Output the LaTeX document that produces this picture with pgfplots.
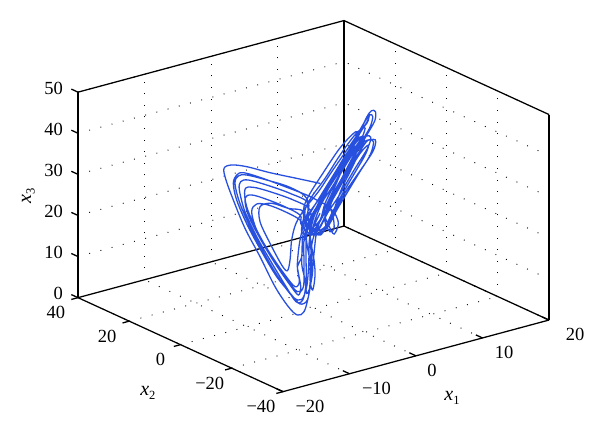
\documentclass[border=0pt]{standalone}
\usepackage{fontspec}
\setmainfont{Liberation Serif}
\usepackage{pgfplots}
\usepackage{pgfplotstable}
\pgfplotsset{compat=1.18}
\definecolor{traj}{RGB}{40,80,222}
\newcommand{\lab}[1]{\textit{x}\raisebox{-3.5pt}{\fontsize{12.5}{12.5}\selectfont #1}}
\pgfplotstableread{
x y z
1.35 .95 29.67
-3.46 -2.42 33.95
-8.95 -6.27 38.82
-13.76 -9.63 43.34
-16.85 -11.8 45.72
-18.43 -12.9 45.9
-18.02 -12.61 42.81
-16.51 -11.56 36.98
-14.11 -9.88 28.56
-11.01 -7.71 19.69
-7.92 -5.54 10.43
-5.18 -3.63 3.82
-3.32 -2.32 0.61
-1.95 -1.37 0.55
-1.05 -.74 3.63
-.37 -.26 8.06
.11 .08 13.43
.66 .46 18.36
2.04 1.43 22.34
4.10 2.87 26.30
6.50 4.55 31.26
8.91 6.24 35.41
10.83 7.58 39.46
11.93 8.35 40.62
12.76 8.93 39.85
12.62 8.83 37.75
10.97 7.68 35.31
8.22 5.75 31.39
5.82 4.07 27.24
3.41 2.39 23.09
1.69 1.18 19.72
.32 .22 18.57
-1.05 -.74 22.28
-1.40 -.98 27.78
-4.83 -3.38 32.63
-9.64 -6.75 37.48
-13.76 -9.63 41.31
-15.48 -10.84 42.17
-16.17 -11.32 40.81
-15.27 -10.69 35.78
-13.08 -9.16 28.31
-9.98 -6.99 19.45
-6.89 -4.82 11.40
-4.14 -2.90 5.43
-2.43 -1.70 3.85
-1.40 -.98 6.28
-.98 -.69 11.69
-.85 -.60 17.29
.11 .08 22.35
2.38 1.67 26.18
5.13 3.59 30.52
7.88 5.52 34.85
10.14 7.10 38.28
11.52 8.06 39.83
12.21 8.55 38.98
11.52 8.06 36.59
9.25 6.48 33.57
6.50 4.55 29.23
4.10 2.87 25.09
2.04 1.43 21.53
-.02 -.01 19.19
-1.74 -1.22 21.91
-1.05 -.74 26.34
-4.83 -3.38 31.17
-9.64 -6.75 36.26
-13.42 -9.39 39.88
-15.0 -10.5 40.48
-15.27 -10.69 38.62
-14.11 -9.88 32.61
-11.70 -8.19 25.0
-8.95 -6.27 17.57
-5.86 -4.10 9.53
-3.60 -2.52 4.03
-2.22 -1.55 3.56
-1.53 -1.07 7.17
-1.53 -1.07 13.66
-1.40 -.98 19.26
-.02 -.01 23.25
2.73 1.91 27.17
5.82 4.07 31.70
8.91 6.24 35.0
10.83 7.58 35.16
11.79 8.25 34.23
11.11 7.78 31.98
8.36 5.85 28.46
5.34 3.74 24.30
2.86 2.0 21.42
1.01 .71 18.54
-.71 -.50 18.82
-.71 -.50 24.50
-4.14 -2.90 29.11
-8.95 -6.27 34.20
-12.39 -8.67 37.44
-14.11 -9.88 38.05
-13.76 -9.63 33.61
-11.70 -8.19 26.62
-8.61 -6.03 18.17
-5.38 -3.77 10.44
-3.32 -2.32 6.29
-2.08 -1.46 6.71
-1.95 -1.37 12.31
-1.95 -1.37 17.99
-.71 -.50 22.47
2.04 1.43 25.99
5.13 3.59 29.71
8.22 5.75 32.60
10.42 7.29 34.04
12.34 8.64 33.39
12.82 8.97 32.51
12.21 8.55 30.47
9.94 6.96 27.86
6.85 4.80 24.55
4.44 3.11 21.22
2.38 1.67 18.47
.32 .22 17.75
-1.74 -1.22 20.29
-2.77 -1.94 23.37
-5.86 -4.10 27.37
-9.30 -6.51 31.17
-11.70 -8.19 32.95
-12.73 -8.91 31.74
-11.70 -8.19 26.62
-8.95 -6.27 19.19
-5.86 -4.10 11.96
-3.80 -2.66 7.81
-2.91 -2.04 8.46
-3.32 -2.32 12.37
-2.43 -1.70 14.23
-2.22 -1.55 18.97
-1.05 -.74 23.09
1.35 .95 26.43
4.10 2.87 29.95
6.85 4.80 33.47
9.25 6.48 35.59
10.42 7.29 35.10
9.94 6.96 32.73
7.53 5.27 29.39
5.13 3.59 26.06
3.41 2.39 22.69
4.24 2.97 20.94
5.13 3.59 17.54
4.24 2.97 15.51
3.27 2.29 17.91
2.38 1.67 21.31
3.41 2.39 24.31
5.82 4.07 28.05
8.56 5.99 31.17
11.11 7.78 33.85
12.34 8.64 32.82
11.66 8.16 30.01
9.25 6.48 26.92
6.85 4.80 23.74
4.79 3.35 21.0
2.73 1.91 17.85
.53 .37 17.62
-1.40 -.98 19.67
-2.63 -1.84 22.47
-2.77 -1.94 24.59
-6.21 -4.35 28.97
-9.64 -6.75 32.77
-12.73 -8.91 35.80
-14.11 -9.88 35.86
-13.42 -9.39 31.36
-11.01 -7.71 24.15
-7.92 -5.54 16.11
-4.83 -3.38 8.87
-3.11 -2.18 5.35
-2.63 -1.84 7.06
-3.11 -2.18 10.62
-3.32 -2.32 13.18
-2.77 -1.94 18.51
-1.53 -1.07 22.99
1.01 .71 25.84
3.76 2.63 28.96
6.50 4.55 32.07
9.25 6.48 34.38
10.28 7.20 33.89
8.91 6.24 31.35
6.16 4.31 27.83
3.76 2.63 24.50
1.69 1.18 20.94
-.37 -.26 18.60
-2.43 -1.70 20.32
-2.08 -1.46 24.96
-5.18 -3.63 27.74
-8.61 -6.03 31.15
-11.01 -7.71 31.86
-11.01 -7.71 28.21
-8.95 -6.27 21.63
-6.55 -4.59 14.83
-5.38 -3.77 12.71
-4.83 -3.38 14.95
-4.49 -3.14 19.60
-3.60 -2.52 23.09
-1.74 -1.22 25.56
1.01 .71 27.87
3.76 2.63 30.98
6.85 4.80 34.28
9.25 6.48 36.81
10.97 7.68 38.15
11.38 7.97 39.11
10.63 7.44 37.97
8.22 5.75 35.04
5.47 3.83 31.11
2.73 1.91 27.17
.66 .46 23.63
-.71 -.50 20.04
-.37 -.26 15.36
.11 .08 11.81
.32 .22 8.02
-.16 -.11 4.68
-.71 -.50 7.47
-.57 -.40 13.05
-.16 -.11 16.85
1.35 .95 20.75
4.10 2.87 24.28
6.85 4.80 28.20
9.60 6.72 31.72
11.31 7.92 32.66
10.63 7.44 30.67
8.22 5.75 27.33
5.82 4.07 24.0
3.76 2.63 20.85
2.04 1.43 17.48
1.01 .71 17.32
-.02 -.01 20.0
1.69 1.18 24.59
4.10 2.87 27.52
6.85 4.80 31.45
8.91 6.24 34.19
9.94 6.96 34.76
9.60 6.72 32.53
7.53 5.27 28.58
5.82 4.07 25.62
4.44 3.11 22.03
3.55 2.49 19.35
2.04 1.43 18.29
-.02 -.01 18.79
-1.40 -.98 21.69
-1.74 -1.22 25.16
-.37 -.26 27.52
2.38 1.67 30.23
5.47 3.83 33.95
8.22 5.75 36.66
9.94 6.96 37.60
10.63 7.44 37.16
9.60 6.72 34.56
6.85 4.80 31.04
4.44 3.11 27.70
2.38 1.67 24.15
1.35 .95 20.75
-.71 -.50 20.04
-1.95 -1.37 22.85
-1.95 -1.37 26.10
-.71 -.50 28.55
1.69 1.18 31.48
5.13 3.59 35.38
7.53 5.27 37.10
8.91 6.24 37.44
8.22 5.75 35.04
5.82 4.07 31.70
3.41 2.39 28.36
1.35 .95 25.62
-.02 -.01 22.43
-1.40 -.98 19.26
-1.26 -.88 15.93
-.71 -.50 12.33
-.16 -.11 9.55
-.71 -.50 5.84
-1.40 -.98 4.66
-1.74 -1.22 8.13
-2.43 -1.70 12.61
-2.08 -1.46 17.26
-.71 -.50 21.25
.66 .46 24.44
2.73 1.91 27.58
5.82 4.07 30.89
8.22 5.75 33.41
9.25 6.48 33.57
7.88 5.52 30.39
5.47 3.83 26.65
3.07 2.15 22.91
2.38 1.67 19.69
3.41 2.39 16.61
4.24 2.97 16.89
3.96 2.77 20.31
3.07 2.15 22.91
.66 .46 26.06
-1.40 -.98 28.59
-6.21 -4.35 33.84
-11.01 -7.71 38.99
-14.45 -10.12 42.32
-15.82 -11.07 42.62
-16.51 -11.56 41.03
-15.82 -11.07 36.54
-13.63 -9.54 29.07
-10.67 -7.47 20.70
-7.58 -5.31 12.65
-4.49 -3.14 6.22
-2.77 -1.94 2.94
-1.26 -.88 2.95
-.71 -.50 6.65
-.37 -.26 12.92
-.71 -.50 18.01
1.35 .95 22.38
}\traj
\begin{document}
\begin{tikzpicture}
\begin{axis}[
  x={(6.65pt,1.79pt)}, y={(-2.5625pt,1.175pt)}, z={(0pt,4.11pt)},
  xmin=-20,xmax=20,ymin=-40,ymax=40,zmin=0,zmax=50,
  xtick={-20,-10,...,20}, ytick={-40,-20,...,40}, ztick={0,10,...,50},
  xticklabels={\kern6pt−20,\kern6pt−10,0\kern16pt,10\kern5pt,\kern4pt 20},
  yticklabels={−40,−20,\kern4pt 0,20,40},
  clip=false, grid=major,
  major grid style={black,line width=0.9pt,dash pattern=on 0.9pt off 10.7pt},
  axis line style={black,line width=1.25pt},
  major tick length=0pt,
  /pgf/number format/assume math mode=true,
  ticklabel style={font=\fontsize{18.5}{18.5}\selectfont,inner sep=0pt},
  xticklabel style={anchor=center,xshift=24pt,yshift=-14.5pt},
  yticklabel style={anchor=center,xshift=-22pt,yshift=-15pt},
  zticklabel style={anchor=east,xshift=-15pt,yshift=4pt},
  xlabel={\lab{1}}, ylabel={\lab{2}}, zlabel={\lab{3}},
  every axis x label/.style={at={(axis cs:-5.3,-67.8,0)},anchor=center,font=\fontsize{20}{20}\selectfont},
  every axis y label/.style={at={(axis cs:-33.07,-21.2,0)},anchor=center,font=\fontsize{20}{20}\selectfont},
  every axis z label/.style={at={(axis cs:-3.7,101.7,0)},anchor=center,rotate=90,font=\fontsize{20}{20}\selectfont},
]
\addplot3[traj,line width=1.3pt,smooth,tension=0.55,no marks] table[x=x,y=y,z=z]{\traj};
\pgfplotsinvokeforeach{-20,-10,0,10,20}{\addplot3[black,solid,line width=1.3pt,forget plot,no marks] coordinates {(#1,-40,0) (#1,-37.4,0)};}
\pgfplotsinvokeforeach{-40,-20,0,20,40}{\addplot3[black,solid,line width=1.3pt,forget plot,no marks] coordinates {(-20,#1,0) (-21,#1,0)};}
\pgfplotsinvokeforeach{0,10,20,30,40,50}{\addplot3[black,solid,line width=1.3pt,forget plot,no marks] coordinates {(-20,40,#1) (-20,42.6,#1)};}
\coordinate (O) at (axis cs:0,0,0);
\end{axis}
\pgfresetboundingbox
\path[use as bounding box] ([shift={(-313.5pt,-125.15pt)}]O) rectangle ([shift={(286.5pt,308.85pt)}]O);
\end{tikzpicture}
\end{document}
